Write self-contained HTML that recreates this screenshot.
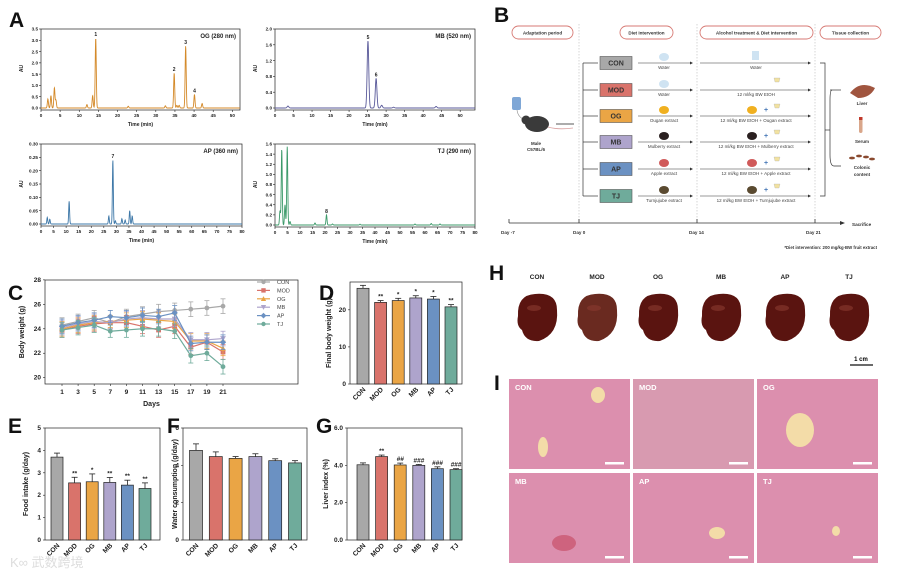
<!DOCTYPE html>
<html><head><meta charset="utf-8">
<style>
html,body{margin:0;padding:0;background:#fff;}
svg{display:block;font-family:"Liberation Sans",Arial,sans-serif;}
</style></head>
<body>
<svg id="fig" width="903" height="573" viewBox="0 0 903 573" xmlns="http://www.w3.org/2000/svg">
<rect width="903" height="573" fill="#fff"/>
<!-- panel letters -->
<g font-weight="bold" font-size="21" fill="#111">
<text x="9" y="27">A</text>
<text x="494" y="22">B</text>
<text x="8" y="300">C</text>
<text x="319" y="300">D</text>
<text x="8" y="433">E</text>
<text x="167" y="433">F</text>
<text x="316" y="433">G</text>
<text x="489" y="280">H</text>
<text x="494" y="390">I</text>
</g>

<!-- Panel B schematic -->
<g id="panelB" font-size="4.5" fill="#333">
<g fill="none" stroke="#d77a74" stroke-width="0.9">
<rect x="512" y="26" width="61" height="13" rx="6.5"/>
<rect x="620" y="26" width="53" height="13" rx="6.5"/>
<rect x="700" y="26" width="113" height="13" rx="6.5"/>
<rect x="820" y="26" width="61" height="13" rx="6.5"/>
</g>
<g font-weight="bold" font-size="4.6" text-anchor="middle" fill="#333">
<text x="542.5" y="34.5">Adaptation period</text>
<text x="646.5" y="34.5">Diet intervention</text>
<text x="756.5" y="34.5">Alcohol treatment &amp; Diet intervention</text>
<text x="850.5" y="34.5">Tissue collection</text>
</g>
<g stroke="#bbb" stroke-width="0.6" stroke-dasharray="1.5,1.5">
<line x1="579" y1="24" x2="579" y2="222"/><line x1="697" y1="24" x2="697" y2="222"/><line x1="815" y1="24" x2="815" y2="222"/>
</g>
<!-- mouse -->
<g>
<rect x="512" y="97" width="9" height="13" rx="2" fill="#7fa7d6"/>
<path d="M517 110 Q518 118 526 120" stroke="#888" stroke-width="0.6" fill="none"/>
<ellipse cx="537" cy="124" rx="12" ry="8" fill="#3a3a3a"/>
<circle cx="526" cy="120" r="4.5" fill="#3a3a3a"/>
<path d="M548 127 Q558 130 573 128" stroke="#d9a0a0" stroke-width="0.8" fill="none"/>
<text x="536" y="145" font-weight="bold" text-anchor="middle">Male</text>
<text x="536" y="151" font-weight="bold" text-anchor="middle">C57BL/6</text>
<line x1="556" y1="124" x2="574" y2="124" stroke="#222" stroke-width="0.7"/>
</g>
<g stroke="#333" stroke-width="0.7" fill="none">
<line x1="583" y1="63" x2="583" y2="196"/>
<line x1="583" y1="63" x2="598" y2="63"/><line x1="583" y1="90" x2="598" y2="90"/><line x1="583" y1="116" x2="598" y2="116"/>
<line x1="583" y1="142" x2="598" y2="142"/><line x1="583" y1="169" x2="598" y2="169"/><line x1="583" y1="196" x2="598" y2="196"/>
</g>
<g id="groupRows"></g>
<g stroke="#333" stroke-width="0.7" fill="none">
<path d="M820 63 H825 V196 H820"/><line x1="825" y1="130" x2="830" y2="130"/>
<path d="M832 90 Q830 90 830 100 V155 Q830 166 834 166 H841"/><line x1="830" y1="90" x2="841" y2="90"/>
</g>
<g>
<path d="M850 93 Q860 80 875 88 Q870 98 858 98 Z" fill="#a0553f"/>
<text x="862" y="105" font-weight="bold" text-anchor="middle">Liver</text>
<rect x="859" y="117" width="3.5" height="16" rx="1.7" fill="#d9a68a"/>
<rect x="859" y="117" width="3.5" height="3" fill="#c0392b"/>
<text x="862" y="143" font-weight="bold" text-anchor="middle">Serum</text>
<g fill="#8a4a30"><ellipse cx="852" cy="158" rx="3" ry="1.4"/><ellipse cx="859" cy="156" rx="3" ry="1.4"/><ellipse cx="866" cy="157" rx="3" ry="1.4"/><ellipse cx="872" cy="159" rx="3" ry="1.4"/></g>
<text x="862" y="169" font-weight="bold" text-anchor="middle">Colonic</text>
<text x="862" y="176" font-weight="bold" text-anchor="middle">content</text>
</g>
<g>
<line x1="509" y1="223" x2="840" y2="223" stroke="#333" stroke-width="0.8"/>
<path d="M840 221 L845 223 L840 225Z" fill="#333"/>
<g stroke="#333" stroke-width="0.8"><line x1="509" y1="219" x2="509" y2="223"/><line x1="579" y1="219" x2="579" y2="223"/><line x1="697" y1="219" x2="697" y2="223"/><line x1="815" y1="219" x2="815" y2="223"/></g>
<g font-weight="bold" font-size="4.6"><text x="501" y="234">Day -7</text><text x="573" y="234">Day 0</text><text x="689" y="234">Day 14</text><text x="806" y="234">Day 21</text><text x="852" y="226">Sacrifice</text></g>
<text x="877" y="249" font-size="4.3" font-weight="bold" text-anchor="end">*Diet intervention: 200 mg/kg·BW fruit extract</text>
</g>
</g>

<!-- Panel H livers -->
<g id="panelH"></g>
<g>
<text x="861" y="361" font-size="6" font-weight="bold" text-anchor="middle">1 cm</text>
<line x1="850" y1="365" x2="873" y2="365" stroke="#111" stroke-width="1.3"/>
</g>
<!-- Panel I histology -->
<g id="panelI"></g>

<g id="charts"></g>
<!-- watermark -->
<text x="10" y="567" font-size="13" fill="#ddd" font-family="Liberation Sans, Noto Sans CJK SC, sans-serif">K∞ 武数跨境</text>
</svg>

<script>
const NS='http://www.w3.org/2000/svg';
const svg=document.getElementById('fig');
const charts=document.getElementById('charts');
function E(tag,a,p){const e=document.createElementNS(NS,tag);for(const k in a)e.setAttribute(k,a[k]);(p||charts).appendChild(e);return e;}
function T(x,y,s,a,p){const e=E('text',Object.assign({x:x,y:y},a||{}),p);e.textContent=s;return e;}

/* ---------- data ---------- */
const groups=['CON','MOD','OG','MB','AP','TJ'];
const colors=['#a8a8a8','#d9736b','#eaa545','#aea4cc','#6b91c2','#6fab9b'];
// Panel A chromatogram peaks: [time(min), height(AU)]
const ogPeaks=[[1.8,0.4],[2.6,0.55],[3.5,0.9],[3.9,0.35],[12,0.15],[13.5,0.55],[14.3,3.1],[22.8,0.08],[32.5,0.1],[34.8,1.55],[35.5,0.12],[36.1,0.12],[37.8,2.75],[40.1,0.6],[42.1,0.2]];
const ogLabels=[[14.3,'1'],[34.8,'2'],[37.8,'3'],[40.1,'4']];
const mbPeaks=[[3.5,0.05],[25.1,1.7],[27.3,0.75],[28.8,0.07],[32,0.02],[43.5,0.04]];
const mbLabels=[[25.1,'5'],[27.3,'6']];
const apPeaks=[[2.5,0.025],[3.5,0.018],[11.2,0.085],[27,0.03],[28.6,0.24],[29.6,0.012],[32.2,0.02],[33.5,0.015],[35.3,0.05],[36.3,0.03]];
const apLabels=[[28.6,'7']];
const tjPeaks=[[2,0.28],[2.7,1.5],[4,0.4],[4.9,1.55],[6,0.07],[16,0.04],[20.6,0.2],[23,0.02],[34,0.015],[56,0.02],[62.5,0.03],[66,0.02]];
const tjLabels=[[20.6,'8']];
// Panel C body weight
const days=[1,3,5,7,9,11,13,15,17,19,21];
const bwCON=[24.3,24.6,24.9,24.5,25.0,25.2,25.4,25.5,25.6,25.7,25.85];
const bwMOD=[23.9,24.2,24.4,24.5,24.5,24.2,23.9,24.2,22.5,22.9,22.1];
const bwOG=[24.0,24.3,24.5,24.6,24.7,24.8,24.7,24.6,23.0,23.0,22.4];
const bwMB=[24.1,24.4,24.6,24.5,24.8,24.9,24.8,24.8,23.1,23.1,23.2];
const bwAP=[24.2,24.5,24.7,25.0,24.9,25.1,25.0,25.3,22.8,22.9,22.9];
const bwTJ=[23.9,24.1,24.3,23.8,23.9,24.0,24.0,23.8,21.8,22.0,20.9];
const bwErr=[0.6,0.6,0.6,0.5,0.6,0.6,0.6,0.6,0.6,0.6,0.6];
// Panel D-G
const finalBW=[25.8,22.0,22.5,23.2,22.9,20.8];
const finalBWErr=[0.8,0.5,0.6,0.6,0.7,0.6];
const finalBWSig=['','**','*','*','*','**'];
const food=[3.7,2.55,2.6,2.57,2.45,2.3];
const foodErr=[0.18,0.25,0.35,0.22,0.22,0.25];
const foodSig=['','**','*','**','**','**'];
const water=[4.8,4.47,4.37,4.47,4.25,4.13];
const waterErr=[0.35,0.25,0.1,0.15,0.1,0.12];
const waterSig=['','','','','',''];
const liver=[4.03,4.47,4.02,4.0,3.82,3.77];
const liverErr=[0.1,0.08,0.1,0.05,0.1,0.05];
const liverSig=['','**','##','###','###','###'];

/* ---------- chromatograms ---------- */
function chrom(name,L,R,Tp,B,xmax,xticks,ymax,yticks,ydec,peaks,labels,color,title,sig){
  const g=E('g',{});
  
  
  const sx=t=>L+t/xmax*(R-L), sy=v=>B-v/ymax*(B-Tp);
  E('rect',{x:L,y:Tp,width:R-L,height:B-Tp+2,fill:'none',stroke:'#222','stroke-width':0.7},g);
  let d='';
  for(let t=0;t<=xmax;t+=xmax/900){let v=0;for(const p of peaks){v+=p[1]*Math.exp(-Math.pow((t-p[0])/sig,2)/2);}d+=(d?'L':'M')+sx(t).toFixed(2)+' '+sy(v).toFixed(2);}
  const line=E('path',{d:d,fill:'none',stroke:color,'stroke-width':0.9},g);
  
  
  for(const lb of labels){let v=0;for(const p of peaks){v+=p[1]*Math.exp(-Math.pow((lb[0]-p[0])/sig,2)/2);}
    const t=T(sx(lb[0]),sy(v)-2,lb[1],{'font-size':5,'font-weight':'bold','text-anchor':'middle',fill:'#222'},g);
    
    }
  for(const v of yticks){E('line',{x1:L-2,y1:sy(v),x2:L,y2:sy(v),stroke:'#222','stroke-width':0.6},g);T(L-3,sy(v)+1.7,v.toFixed(ydec),{'font-size':4.6,'font-weight':'bold','text-anchor':'end',fill:'#222'},g);}
  for(const v of xticks){E('line',{x1:sx(v),y1:B+2,x2:sx(v),y2:B+4,stroke:'#222','stroke-width':0.6},g);T(sx(v),B+9,String(v),{'font-size':4.6,'font-weight':'bold','text-anchor':'middle',fill:'#222'},g);}
  T((L+R)/2,B+18,'Time (min)',{'font-size':5,'font-weight':'bold','text-anchor':'middle',fill:'#222'},g);
  const yl=T(0,0,'AU',{'font-size':5,'font-weight':'bold','text-anchor':'middle',fill:'#222',transform:`translate(${L-18},${(Tp+B)/2}) rotate(-90)`},g);
  
  
  const tt=T(R-4,Tp+9,title,{'font-size':6,'font-weight':'bold','text-anchor':'end',fill:'#222'},g);
  
  
}
const r5=n=>{const a=[];for(let i=0;i<=n;i+=5)a.push(i);return a;};
chrom('chromatogram-og',41,240,29,108,52,r5(50),3.5,[0,0.5,1,1.5,2,2.5,3,3.5],1,ogPeaks,ogLabels,'#d48a2a','OG (280 nm)',0.14);
chrom('chromatogram-mb',275,475,29,108,54,r5(50),2.0,[0,0.4,0.8,1.2,1.6,2.0],1,mbPeaks,mbLabels,'#5a5a9a','MB (520 nm)',0.22);
chrom('chromatogram-ap',41,242,144,224,80,r5(80),0.30,[0,0.05,0.1,0.15,0.2,0.25,0.3],2,apPeaks,apLabels,'#3e78a8','AP (360 nm)',0.18);
chrom('chromatogram-tj',275,475,144,225,80,r5(80),1.6,[0,0.2,0.4,0.6,0.8,1.0,1.2,1.4,1.6],1,tjPeaks,tjLabels,'#3c9a6a','TJ (290 nm)',0.2);

/* ---------- Panel C line chart ---------- */
(function(){
  const L=45,R=298,Tp=280,B=384;
  const g=E('g',{});
  
  
  const sx=d=>62+(d-1)/20*(223-62), sy=v=>377.7-(v-20)*12.23;
  E('rect',{x:L,y:Tp,width:R-L,height:B-Tp,fill:'none',stroke:'#222','stroke-width':0.7},g);
  for(let v=20;v<=28;v+=2){E('line',{x1:L-2,y1:sy(v),x2:L,y2:sy(v),stroke:'#222','stroke-width':0.6},g);T(L-4,sy(v)+2,String(v),{'font-size':6.5,'font-weight':'bold','text-anchor':'end',fill:'#222'},g);}
  for(const d of days){E('line',{x1:sx(d),y1:B,x2:sx(d),y2:B+2,stroke:'#222','stroke-width':0.6},g);T(sx(d),B+10,String(d),{'font-size':6.5,'font-weight':'bold','text-anchor':'middle',fill:'#222'},g);}
  T((L+R)/2-20,B+22,'Days',{'font-size':7,'font-weight':'bold','text-anchor':'middle',fill:'#222'},g);
  T(0,0,'Body weight (g)',{'font-size':7,'font-weight':'bold','text-anchor':'middle',fill:'#222',transform:`translate(24,${(Tp+B)/2}) rotate(-90)`},g);
  const series=[bwCON,bwMOD,bwOG,bwMB,bwAP,bwTJ];
  const shapes=['circle','square','tri','tridown','diamond','circle'];
  series.forEach((s,i)=>{
    const c=colors[i];
    s.forEach((v,j)=>{E('line',{x1:sx(days[j]),y1:sy(v-bwErr[j]),x2:sx(days[j]),y2:sy(v+bwErr[j]),stroke:c,'stroke-width':0.8},g);
      E('line',{x1:sx(days[j])-2.5,y1:sy(v+bwErr[j]),x2:sx(days[j])+2.5,y2:sy(v+bwErr[j]),stroke:c,'stroke-width':0.8},g);
      E('line',{x1:sx(days[j])-2.5,y1:sy(v-bwErr[j]),x2:sx(days[j])+2.5,y2:sy(v-bwErr[j]),stroke:c,'stroke-width':0.8},g);});
    const p=E('polyline',{points:s.map((v,j)=>sx(days[j])+','+sy(v)).join(' '),fill:'none',stroke:c,'stroke-width':1.2},g);
    
    
    s.forEach((v,j)=>{const pt=marker(g,shapes[i],sx(days[j]),sy(v),c,2.4);
      
      });
    const ly=282+i*8.4;
    E('line',{x1:257,y1:ly,x2:270,y2:ly,stroke:c,'stroke-width':1.2},g);
    const lm=marker(g,shapes[i],263.5,ly,c,2.2);
    
    
    const lt=T(277,ly+2,groups[i],{'font-size':5.5,fill:'#444'},g);
    
    
  });
  function marker(p,sh,x,y,c,r){
    if(sh==='circle')return E('circle',{cx:x,cy:y,r:r,fill:c},p);
    if(sh==='square')return E('rect',{x:x-r,y:y-r,width:2*r,height:2*r,fill:c},p);
    if(sh==='tri')return E('path',{d:`M${x} ${y-r*1.2}L${x+r*1.2} ${y+r}L${x-r*1.2} ${y+r}Z`,fill:c},p);
    if(sh==='tridown')return E('path',{d:`M${x} ${y+r*1.2}L${x+r*1.2} ${y-r}L${x-r*1.2} ${y-r}Z`,fill:c},p);
    return E('path',{d:`M${x} ${y-r*1.3}L${x+r*1.3} ${y}L${x} ${y+r*1.3}L${x-r*1.3} ${y}Z`,fill:c},p);
  }
})();

/* ---------- bar charts ---------- */
function bars(name,L,R,Tp,B,ymax,ticks,tdec,x0,step,bw,vals,errs,sig,ytitle,titleX){
  const g=E('g',{});
  
  
  const sy=v=>B-v/ymax*(B-Tp);
  E('rect',{x:L,y:Tp,width:R-L,height:B-Tp,fill:'none',stroke:'#222','stroke-width':0.7},g);
  for(const v of ticks){E('line',{x1:L-2,y1:sy(v),x2:L,y2:sy(v),stroke:'#222','stroke-width':0.6},g);T(L-4,sy(v)+2,v.toFixed(tdec),{'font-size':6.5,'font-weight':'bold','text-anchor':'end',fill:'#222'},g);}
  vals.forEach((v,i)=>{
    const cx=x0+i*step;
    E('line',{x1:cx,y1:sy(v),x2:cx,y2:sy(v+errs[i]),stroke:'#222','stroke-width':0.8},g);
    E('line',{x1:cx-3,y1:sy(v+errs[i]),x2:cx+3,y2:sy(v+errs[i]),stroke:'#222','stroke-width':0.8},g);
    const r=E('rect',{x:cx-bw/2,y:sy(v),width:bw,height:B-sy(v),fill:colors[i],stroke:'#222','stroke-width':0.7},g);
    
    
    if(sig[i])T(cx,sy(v+errs[i])-2,sig[i],{'font-size':6.5,'font-weight':'bold','text-anchor':'middle',fill:'#222','font-style':sig[i][0]==='#'?'italic':'normal'},g);
    T(0,0,groups[i],{'font-size':6.8,'font-weight':'bold','text-anchor':'end',fill:'#222',transform:`translate(${cx+3},${B+6}) rotate(-45)`},g);
  });
  const yt=T(0,0,ytitle,{'font-size':7,'font-weight':'bold','text-anchor':'middle',fill:'#222',transform:`translate(${titleX},${(Tp+B)/2}) rotate(-90)`},g);
  
  
}
bars('final-body-weight-chart',350,462,282,384,27.5,[0,10,20],0,363,17.6,12,finalBW,finalBWErr,finalBWSig,'Final body weight (g)',331);
bars('food-intake-chart',45,160,428,540,5,[0,1,2,3,4,5],0,57,17.6,12,food,foodErr,foodSig,'Food intake (g/day)',28);
bars('water-consumption-chart',183,307,428,540,6,[0,2,4,6],0,196,19.8,13,water,waterErr,waterSig,'Water consumption (g/day)',177);
bars('liver-index-chart',347,462,428,540,6,[0,2,4,6],1,363,18.6,12,liver,liverErr,liverSig,'Liver index (%)',328);

/* ---------- Panel B rows ---------- */
(function(){
  const p=document.getElementById('groupRows');
  const ys=[63,90,116,142,169,196];
  const diet=['Water','Water','Ougan extract','Mulberry extract','Apple extract','Turnjujube extract'];
  const alc=['Water','12 ml/kg BW EtOH','12 ml/kg BW EtOH + Ougan extract','12 ml/kg BW EtOH + Mulberry extract','12 ml/kg BW EtOH + Apple extract','12 ml/kg BW EtOH + Turnjujube extract'];
  const icon=['#cfe3f2','#cfe3f2','#f0b020','#2a2020','#d05a5a','#5a4a30'];
  ys.forEach((y,i)=>{
    const b=E('rect',{x:600,y:y-6.5,width:32,height:13,fill:colors[i],stroke:'#555','stroke-width':0.6},p);
    
    
    T(616,y+2.5,groups[i],{'font-size':7,'font-weight':'bold','text-anchor':'middle',fill:'#333'},p);
    E('line',{x1:638,y1:y,x2:690,y2:y,stroke:'#333','stroke-width':0.6},p);
    E('path',{d:`M690 ${y-1.5}L693 ${y}L690 ${y+1.5}Z`,fill:'#333'},p);
    E('line',{x1:700,y1:y,x2:808,y2:y,stroke:'#333','stroke-width':0.6},p);
    E('path',{d:`M808 ${y-1.5}L811 ${y}L808 ${y+1.5}Z`,fill:'#333'},p);
    T(664,y+6,diet[i],{'font-size':4.5,'text-anchor':'middle',fill:'#444'},p);
    T(756,y+6,alc[i],{'font-size':4.5,'text-anchor':'middle',fill:'#444'},p);
    E('ellipse',{cx:664,cy:y-6,rx:5,ry:4,fill:icon[i]},p);
    if(i===0)E('rect',{x:752,y:y-12,width:7,height:9,fill:icon[0]},p);
    else {E('path',{d:`M774 ${y-12}h6l-1 4h-4z`,fill:'#f2e2a0',stroke:'#aaa','stroke-width':0.3},p);
      if(i>1){E('ellipse',{cx:752,cy:y-6,rx:5,ry:4,fill:icon[i]},p);T(764,y-4,'+',{'font-size':7,'font-weight':'bold',fill:'#4a7ab8'},p);}}
  });
})();

/* ---------- Panel H livers ---------- */
(function(){
  const p=document.getElementById('panelH');
  const cx=[537,597,658,721,785,849];
  cx.forEach((x,i)=>{
    T(x,279,groups[i],{'font-size':6.5,'font-weight':'bold','text-anchor':'middle',fill:'#222'},p);
    const l=E('path',{d:`M${x-19} ${316} Q${x-20} ${295} ${x-2} ${294} Q${x+20} ${292} ${x+20} ${310} Q${x+22} ${334} ${x+2} ${341} Q${x-12} ${342} ${x-15} ${330} Q${x-21} ${326} ${x-19} ${316}Z`,fill:i===1?'#6a2a20':'#5a1410'},p);
    
    
    E('ellipse',{cx:x-3,cy:308,rx:7,ry:3,fill:'#8a3a30',opacity:0.6},p);
  });
})();

/* ---------- Panel I histology ---------- */
(function(){
  const p=document.getElementById('panelI');
  const xs=[509,633,757], ys=[379,473];
  const vessels=[[[598,264,7,8],[543,447,5,10]],[],[[800,430,14,17]],[],[[717,533,8,6]],[[836,531,4,5]]];
  let k=0;
  ys.forEach(y=>xs.forEach(x=>{
    const r=E('rect',{x:x,y:y,width:121,height:90,fill:k===1?'#d89ab0':'#dc8fae'},p);
    
    
    T(x+6,y+11,groups[k],{'font-size':7.5,'font-weight':'bold',fill:'#fff'},p);
    E('rect',{x:x+96,y:y+83,width:19,height:2.5,fill:'#fff'},p);
    for(const v of vessels[k]){const vy=v[1]<379?v[1]+131:v[1];E('ellipse',{cx:v[0],cy:vy,rx:v[2],ry:v[3],fill:'#f3dca8'},p);}
    if(k===3)E('ellipse',{cx:x+55,cy:y+70,rx:12,ry:8,fill:'#c8506a',opacity:0.7},p);
    k++;
  }));
})();
</script>
</body></html>
